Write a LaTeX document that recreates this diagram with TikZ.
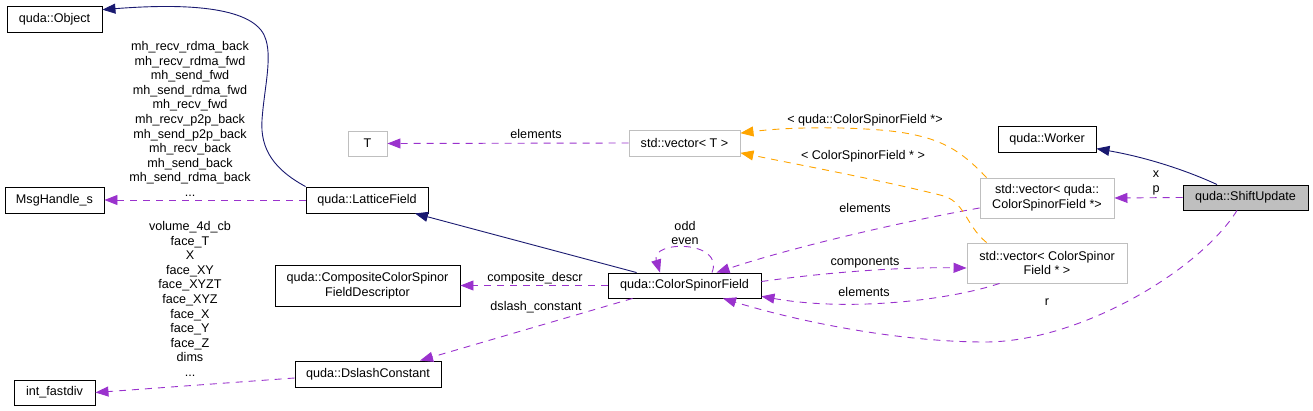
\documentclass[tikz,border=0pt]{standalone}
\usepackage{fontspec}
\setmainfont{Liberation Sans}
\usetikzlibrary{arrows.meta}
\definecolor{navyline}{HTML}{191970}
\definecolor{orchid}{HTML}{9A32CD}
\definecolor{tplorange}{HTML}{FFA500}
\definecolor{boxgray}{HTML}{BFBFBF}
\tikzset{%
    cls/.style={draw=black, rectangle, inner sep=0pt, align=center, font=\fontsize{12.6}{14.6}\selectfont},
    tmpl/.style={cls, draw=boxgray},
    lbl/.style={inner sep=0pt, align=center, font=\fontsize{12.6}{14.6}\selectfont}
}

\begin{document}
\begin{tikzpicture}[x=1pt, y=-1pt, line width=0.9pt,
            inh/.style={draw=navyline, -{Triangle[length=13pt,width=10pt]}},
            usg/.style={draw=orchid, dash pattern=on 7pt off 6pt, -{Triangle[length=13pt,width=10pt]}},
            tpl/.style={usg, draw=tplorange}
            ]
            \useasboundingbox (0,0) rectangle (1313,411);

            \node[cls, minimum width=95pt, minimum height=26pt] (object) at (54.5,19) {quda::Object};
            \node[cls, minimum width=99pt, minimum height=26pt] (msghandle) at (54.5,200) {MsgHandle\_s};
            \node[cls, minimum width=81pt, minimum height=25pt] (fastdiv) at (54.5,392.5) {int\_fastdiv};

            \node[tmpl, minimum width=39pt, minimum height=25pt] (tparam) at (367.5,143.5) {T};
            \node[cls, minimum width=122pt, minimum height=26pt] (lattice) at (367,200) {quda::LatticeField};
            \node[cls, minimum width=185pt, minimum height=41pt] (compdesc) at (367.5,285.5) {quda::CompositeColorSpinor\\FieldDescriptor};
            \node[cls, minimum width=146pt, minimum height=26pt] (dslash) at (368,374) {quda::DslashConstant};

            \node[tmpl, minimum width=111pt, minimum height=26pt] (vect) at (684.5,143) {std::vector< T >};
            \node[cls, minimum width=153pt, minimum height=25pt] (csf) at (684.5,285.5) {quda::ColorSpinorField};

            \node[cls, minimum width=98pt, minimum height=26pt] (worker) at (1047,139) {quda::Worker};
            \node[tmpl, minimum width=134pt, minimum height=40pt] (vecq) at (1047,198) {std::vector< quda::\\ColorSpinorField *>};
            \node[tmpl, minimum width=160pt, minimum height=40pt] (veccsf) at (1047,263) {std::vector< ColorSpinor\\Field * >};

            \node[cls, fill=boxgray, minimum width=125pt, minimum height=25pt] (shift) at (1245.5,197.5) {quda::ShiftUpdate};

            % inheritance
            \draw[inh] (lattice.north west) .. controls (275,170) and (260,150) .. (262,120)
                .. controls (264,90) and (272,60) .. (266,40) .. controls (258,10) and (200,2) .. (object.11);
            \draw[inh] ([xshift=29pt]csf.north west) -- ([xshift=48pt]lattice.south);
            \draw[inh] ([xshift=-28.5pt]shift.north) .. controls (1190,172) and (1150,158) .. (worker.-11);

            % members
            \draw[usg] (lattice.west) -- (msghandle.east);
            \draw[usg] (vect.west) -- (tparam.east);
            \draw[usg] (csf.west) -- (compdesc.east);
            \draw[usg] ([xshift=25pt]csf.south west) -- ([xshift=52pt]dslash.north);
            \draw[usg] ([yshift=-4pt]dslash.west) -- (fastdiv.east);
            \draw[usg] ([xshift=27.5pt]csf.north) .. controls (725,240) and (650,240) .. ([xshift=-24.5pt]csf.north);
            \draw[usg] ([yshift=-10pt]vecq.west) .. controls (900,222) and (790,248) .. ([xshift=32pt]csf.north);
            \draw[usg] ([yshift=4pt]csf.east) .. controls (830,272) and (900,267) .. ([yshift=-5pt]veccsf.west);
            \draw[usg] ([xshift=33pt]veccsf.south west) .. controls (950,300) and (850,312) .. (csf.-8);
            \draw[usg] (shift.west) -- (vecq.east);
            \draw[usg] ([xshift=-8.5pt]shift.south) .. controls (1200,270) and (1080,342) .. (985,342)
                .. controls (900,342) and (800,322) .. ([xshift=38.5pt]csf.south);

            % template instances
            \draw[tpl] ([xshift=7pt]vecq.north west) .. controls (960,150) and (940,135) .. (880,130)
                .. controls (830,126) and (780,128) .. (vect.10);
            \draw[tpl] ([xshift=20pt]veccsf.north west) .. controls (965,225) and (965,200) .. (940,195)
                .. controls (880,180) and (800,165) .. (vect.-10);

            % labels
            \node[lbl] (lblmsg) at (190,119) {mh\_recv\_rdma\_back\\mh\_recv\_rdma\_fwd\\mh\_send\_fwd\\mh\_send\_rdma\_fwd\\mh\_recv\_fwd\\mh\_recv\_p2p\_back\\mh\_send\_p2p\_back\\mh\_recv\_back\\mh\_send\_back\\mh\_send\_rdma\_back\\...};
            \node[lbl] (lblfast) at (190,299) {volume\_4d\_cb\\face\_T\\X\\face\_XY\\face\_XYZT\\face\_XYZ\\face\_X\\face\_Y\\face\_Z\\dims\\...};
            \node[lbl] (lblelemt) at (536,134) {elements};
            \node[lbl] (lblcomp) at (535,278) {composite\_descr};
            \node[lbl] (lbldslash) at (536,307) {dslash\_constant};
            \node[lbl] (lbloddeven) at (685,233) {odd\\even};
            \node[lbl] (lblvecq) at (865,120) {< quda::ColorSpinorField *>};
            \node[lbl] (lblveccsf) at (863,156) {< ColorSpinorField * >};
            \node[lbl] (lblelemq) at (865,208) {elements};
            \node[lbl] (lblcomps) at (865,263) {components};
            \node[lbl] (lblelemc) at (864,292) {elements};
            \node[lbl] (lblxp) at (1156,183) {x\\p};
            \node[lbl] (lblr) at (1047,302) {r};
        \end{tikzpicture}
\end{document}
